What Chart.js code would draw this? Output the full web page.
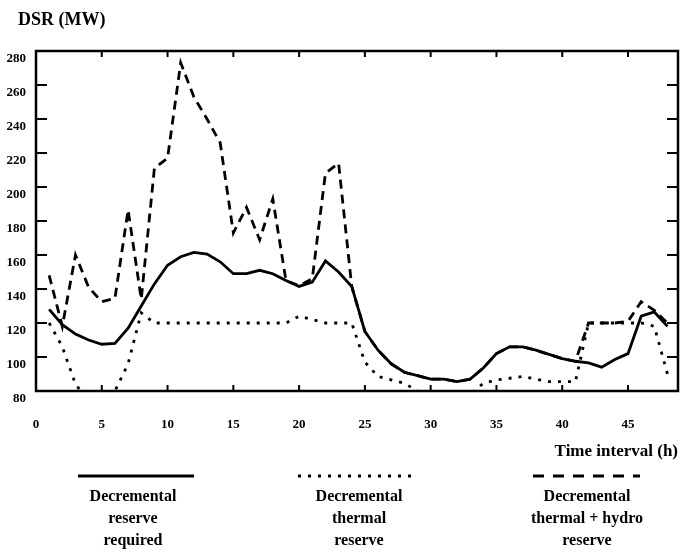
<!DOCTYPE html>
<html>
<head>
<meta charset="utf-8">
<title>DSR (MW)</title>
<script src="https://cdn.jsdelivr.net/npm/chart.js@4/dist/chart.umd.min.js"></script>
<style>
  body { margin: 0; background: #fff; }
  #wrap { width: 689px; height: 560px; }
</style>
</head>
<body>
<div id="wrap"><canvas id="myChart" width="689" height="560"></canvas></div>
<script>
// time intervals (h)
const hours = [1, 2, 3, 4, 5, 6, 7, 8, 9, 10, 11, 12, 13, 14, 15, 16, 17, 18, 19, 20, 21, 22, 23, 24,
               25, 26, 27, 28, 29, 30, 31, 32, 33, 34, 35, 36, 37, 38, 39, 40, 41, 42, 43, 44, 45, 46, 47, 48];

// Decremental reserve required
const reserveRequired = [128, 119, 113.5, 110, 107.5, 108, 117, 130, 143, 154, 159, 161.5,
                         160.5, 156, 149, 149, 151, 149, 145, 141.5, 144, 156.5, 150, 141.5,
                         115, 104, 96, 91, 89, 87, 87, 85.5, 87, 93.5, 102, 106,
                         106, 104, 101.5, 99, 97.5, 96.5, 94, 98.5, 102, 124, 126.5, 118];

// Decremental thermal reserve
const thermalReserve = [120, 106, 84, 74, 74, 80, 96, 126, 120, 120, 120, 120,
                        120, 120, 120, 120, 120, 120, 120, 124, 122, 120, 120, 120,
                        97, 88.5, 86.5, 84.5, 80, 75, 74, 75, 78, 84.5, 86.5, 87.5,
                        88.5, 87, 85.5, 85.5, 85.5, 120, 120, 120, 120, 120, 118, 90];

// Decremental thermal + hydro reserve (runs under the solid curve from 24 h to 41 h)
const thermalHydroReserve = [148, 118, 160, 141, 132.5, 134.5, 186.5, 134, 211, 217, 273, 253,
                             240, 226, 173, 188, 169, 193, 145, 142, 146, 208, 214, 141.5,
                             115, 104, 96, 91, 89, 87, 87, 85.5, 87, 93.5, 102, 106,
                             106, 104, 101.5, 99, 97.5, 120, 120, 120, 121, 132.5, 127.5, 120];

const xTickValues = [0, 5, 10, 15, 20, 25, 30, 35, 40, 45];
const yTickValues = [80, 100, 120, 140, 160, 180, 200, 220, 240, 260, 280];

const legendNames = [
    ['Decremental', 'reserve', 'required'],
    ['Decremental', 'thermal', 'reserve'],
    ['Decremental', 'thermal + hydro', 'reserve']
];

const serif = '"Liberation Serif", "DejaVu Serif", serif';

function points(vals) {
    return hours.map((h, i) => ({ x: h, y: vals[i] }));
}

// box, inner tick marks, axis captions and the legend under the plot
const paperDecor = {
    id: 'paperDecor',
    afterDraw(chart) {
        const ctx = chart.ctx;
        const a = chart.chartArea;
        const xs = chart.scales.x;
        const ys = chart.scales.y;
        ctx.save();
        ctx.strokeStyle = '#000';
        ctx.lineCap = 'butt';

        ctx.lineWidth = 2.5;
        ctx.strokeRect(a.left, a.top, a.right - a.left, a.bottom - a.top);

        ctx.lineWidth = 2;
        ctx.beginPath();
        xTickValues.forEach(v => {
            if (v === 0) return;
            const px = xs.getPixelForValue(v);
            ctx.moveTo(px, a.bottom);
            ctx.lineTo(px, a.bottom - 6);
            ctx.moveTo(px, a.top);
            ctx.lineTo(px, a.top + 6);
        });
        yTickValues.forEach(v => {
            if (v === 80 || v === 280) return;
            const py = ys.getPixelForValue(v);
            ctx.moveTo(a.left, py);
            ctx.lineTo(a.left + 11, py);
            ctx.moveTo(a.right, py);
            ctx.lineTo(a.right - 11, py);
        });
        ctx.stroke();

        ctx.fillStyle = '#000';
        ctx.font = 'bold 18px ' + serif;
        ctx.textBaseline = 'middle';
        ctx.textAlign = 'left';
        ctx.fillText('DSR (MW)', 18, 20);
        ctx.font = 'bold 17px ' + serif;
        ctx.textAlign = 'right';
        ctx.fillText('Time interval (h)', 678, 452);

        // legend samples
        const samples = [
            { x1: 78, x2: 194, dash: [] },
            { x1: 298, x2: 417, dash: [3, 7] },
            { x1: 533, x2: 640, dash: [11, 9] }
        ];
        const centers = [133, 359, 587];
        ctx.lineWidth = 3;
        samples.forEach(s => {
            ctx.setLineDash(s.dash);
            ctx.beginPath();
            ctx.moveTo(s.x1, 476);
            ctx.lineTo(s.x2, 476);
            ctx.stroke();
        });
        ctx.setLineDash([]);

        ctx.font = 'bold 16px ' + serif;
        ctx.textAlign = 'center';
        legendNames.forEach((lines, i) => {
            lines.forEach((t, j) => {
                ctx.fillText(t, centers[i], 497 + j * 22);
            });
        });
        ctx.restore();
    }
};

new Chart('myChart', {
    type: 'line',
    data: {
        datasets: [
            {
                label: 'Decremental thermal + hydro reserve',
                data: points(thermalHydroReserve),
                borderColor: '#000',
                borderWidth: 2.8,
                borderDash: [9, 6],
                pointRadius: 0,
                tension: 0
            },
            {
                label: 'Decremental thermal reserve',
                data: points(thermalReserve),
                borderColor: '#000',
                borderWidth: 2.8,
                borderDash: [3, 7],
                pointRadius: 0,
                tension: 0
            },
            {
                label: 'Decremental reserve required',
                data: points(reserveRequired),
                borderColor: '#000',
                borderWidth: 2.8,
                pointRadius: 0,
                tension: 0
            }
        ]
    },
    options: {
        responsive: false,
        animation: false,
        layout: { padding: { left: 0, top: 51, right: 11, bottom: 119 } },
        plugins: {
            legend: { display: false },
            tooltip: { enabled: false }
        },
        scales: {
            x: {
                type: 'linear',
                min: 0,
                max: 48.8,
                grid: { display: false, drawTicks: false },
                border: { display: false },
                ticks: {
                    stepSize: 5,
                    padding: 26,
                    color: '#000',
                    font: { family: serif, size: 13, weight: 'bold' }
                },
                afterBuildTicks(scale) {
                    scale.ticks = scale.ticks.filter(t => xTickValues.includes(t.value));
                },
                afterFit(scale) { scale.height = 50; }
            },
            y: {
                min: 80,
                max: 280,
                grid: { display: false, drawTicks: false },
                border: { display: false },
                ticks: {
                    stepSize: 20,
                    padding: 10,
                    labelOffset: 8,
                    color: '#000',
                    font: { family: serif, size: 13, weight: 'bold' }
                },
                afterFit(scale) { scale.width = 36; }
            }
        }
    },
    plugins: [paperDecor]
});
</script>
</body>
</html>
